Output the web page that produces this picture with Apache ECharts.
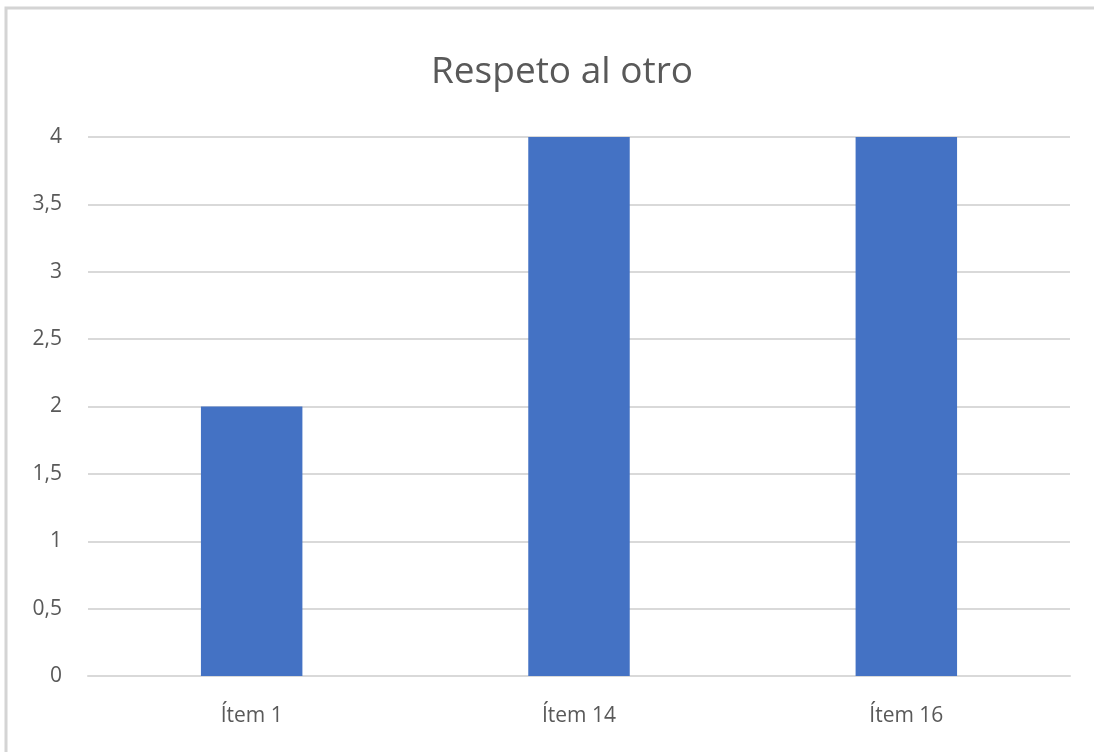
<!DOCTYPE html>
<html>
<head>
<meta charset="utf-8">
<script src="https://cdn.jsdelivr.net/npm/echarts@6/dist/echarts.min.js"></script>
<style>
html,body{margin:0;padding:0;background:#fff;}
#main{width:1094px;height:752px;}
</style>
</head>
<body>
<div id="main"></div>
<script>
var titleText = 'Respeto al otro';
var categories = ['Ítem 1', 'Ítem 14', 'Ítem 16'];
var values = [2, 4, 4];
var yTicks = [0, 0.5, 1, 1.5, 2, 2.5, 3, 3.5, 4];

var chart = echarts.init(document.getElementById('main'));
var font = '"Open Sans", "Noto Sans", sans-serif';
chart.setOption({
  backgroundColor: '#fff',
  animation: false,
  title: {
    text: titleText,
    left: 426,
    top: 49,
    textStyle: {fontFamily: font, fontSize: 37, fontWeight: 'normal', color: '#595959'}
  },
  graphic: [{
    type: 'rect',
    shape: {x: 6, y: 8, width: 1200, height: 800},
    style: {fill: 'none', stroke: '#d4d4d4', lineWidth: 3},
    silent: true
  }],
  grid: {left: 88, right: 24, top: 137, bottom: 76, containLabel: false},
  xAxis: {
    type: 'category',
    data: categories,
    axisLine: {lineStyle: {color: '#d9d9d9', width: 2}},
    axisTick: {show: false},
    axisLabel: {fontFamily: font, fontSize: 21, color: '#595959', margin: 30}
  },
  yAxis: {
    type: 'value',
    min: 0, max: 4, interval: 0.5,
    axisLine: {show: false},
    axisTick: {show: false},
    splitLine: {lineStyle: {color: '#d9d9d9', width: 2}},
    axisLabel: {
      fontFamily: font, fontSize: 21, color: '#595959', margin: 26,
      formatter: function (v) { return String(v).replace('.', ','); }
    }
  },
  series: [{
    type: 'bar',
    data: values,
    barWidth: '31%',
    itemStyle: {color: '#4472C4'}
  }]
});
</script>
</body>
</html>
